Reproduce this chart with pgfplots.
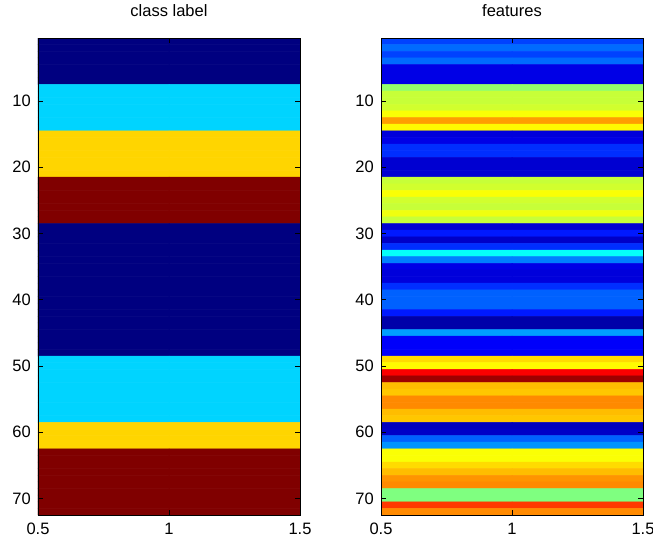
\documentclass[border=0pt]{standalone}
\usepackage{fontspec}
\setmainfont{Liberation Sans}
\usepackage{pgfplots}
\pgfplotsset{compat=1.18}
\pgfplotsset{mstyle/.style={
  scale only axis, width=262pt, height=477pt,
  xmin=0.5, xmax=1.5, ymin=0.5, ymax=72.5, y dir=reverse,
  enlargelimits=false, axis on top,
  xtick={0.5,1,1.5}, ytick={10,20,30,40,50,60,70},
  tick align=inside, major tick length=5pt,
  font=\fontsize{16.5}{19}\selectfont,
  /pgf/number format/assume math mode=true,
  xticklabel style={inner sep=0pt, yshift=-8pt},
  yticklabel style={inner sep=0pt, xshift=-7pt},
  title style={at={(0.5,1)}, anchor=base, yshift=16pt, inner sep=0pt},
  colormap/jet,
  axis line style={line width=0.7pt},
  every tick/.style={black, line width=0.6pt},
},
cells/.style={matrix plot, mesh/cols=2, point meta=explicit, draw=mapped color, line width=0.5pt}}
\begin{document}
\begin{tikzpicture}
\useasboundingbox (-38pt,-29pt) rectangle (615pt,515pt);
\begin{axis}[mstyle, at={(0,0)}, anchor=south west, title={class label}, point meta min=1, point meta max=4]
\addplot[cells] coordinates {
(0.75,1)[1] (1.25,1)[1]
(0.75,2)[1] (1.25,2)[1]
(0.75,3)[1] (1.25,3)[1]
(0.75,4)[1] (1.25,4)[1]
(0.75,5)[1] (1.25,5)[1]
(0.75,6)[1] (1.25,6)[1]
(0.75,7)[1] (1.25,7)[1]
(0.75,8)[2] (1.25,8)[2]
(0.75,9)[2] (1.25,9)[2]
(0.75,10)[2] (1.25,10)[2]
(0.75,11)[2] (1.25,11)[2]
(0.75,12)[2] (1.25,12)[2]
(0.75,13)[2] (1.25,13)[2]
(0.75,14)[2] (1.25,14)[2]
(0.75,15)[3] (1.25,15)[3]
(0.75,16)[3] (1.25,16)[3]
(0.75,17)[3] (1.25,17)[3]
(0.75,18)[3] (1.25,18)[3]
(0.75,19)[3] (1.25,19)[3]
(0.75,20)[3] (1.25,20)[3]
(0.75,21)[3] (1.25,21)[3]
(0.75,22)[4] (1.25,22)[4]
(0.75,23)[4] (1.25,23)[4]
(0.75,24)[4] (1.25,24)[4]
(0.75,25)[4] (1.25,25)[4]
(0.75,26)[4] (1.25,26)[4]
(0.75,27)[4] (1.25,27)[4]
(0.75,28)[4] (1.25,28)[4]
(0.75,29)[1] (1.25,29)[1]
(0.75,30)[1] (1.25,30)[1]
(0.75,31)[1] (1.25,31)[1]
(0.75,32)[1] (1.25,32)[1]
(0.75,33)[1] (1.25,33)[1]
(0.75,34)[1] (1.25,34)[1]
(0.75,35)[1] (1.25,35)[1]
(0.75,36)[1] (1.25,36)[1]
(0.75,37)[1] (1.25,37)[1]
(0.75,38)[1] (1.25,38)[1]
(0.75,39)[1] (1.25,39)[1]
(0.75,40)[1] (1.25,40)[1]
(0.75,41)[1] (1.25,41)[1]
(0.75,42)[1] (1.25,42)[1]
(0.75,43)[1] (1.25,43)[1]
(0.75,44)[1] (1.25,44)[1]
(0.75,45)[1] (1.25,45)[1]
(0.75,46)[1] (1.25,46)[1]
(0.75,47)[1] (1.25,47)[1]
(0.75,48)[1] (1.25,48)[1]
(0.75,49)[2] (1.25,49)[2]
(0.75,50)[2] (1.25,50)[2]
(0.75,51)[2] (1.25,51)[2]
(0.75,52)[2] (1.25,52)[2]
(0.75,53)[2] (1.25,53)[2]
(0.75,54)[2] (1.25,54)[2]
(0.75,55)[2] (1.25,55)[2]
(0.75,56)[2] (1.25,56)[2]
(0.75,57)[2] (1.25,57)[2]
(0.75,58)[2] (1.25,58)[2]
(0.75,59)[3] (1.25,59)[3]
(0.75,60)[3] (1.25,60)[3]
(0.75,61)[3] (1.25,61)[3]
(0.75,62)[3] (1.25,62)[3]
(0.75,63)[4] (1.25,63)[4]
(0.75,64)[4] (1.25,64)[4]
(0.75,65)[4] (1.25,65)[4]
(0.75,66)[4] (1.25,66)[4]
(0.75,67)[4] (1.25,67)[4]
(0.75,68)[4] (1.25,68)[4]
(0.75,69)[4] (1.25,69)[4]
(0.75,70)[4] (1.25,70)[4]
(0.75,71)[4] (1.25,71)[4]
(0.75,72)[4] (1.25,72)[4]
};
\end{axis}
\begin{axis}[mstyle, at={(343pt,0)}, anchor=south west, title={features}, point meta min=0, point meta max=1]
\addplot[cells] coordinates {
(0.75,1)[0.19] (1.25,1)[0.19]
(0.75,2)[0.23] (1.25,2)[0.23]
(0.75,3)[0.19] (1.25,3)[0.19]
(0.75,4)[0.23] (1.25,4)[0.23]
(0.75,5)[0.10] (1.25,5)[0.10]
(0.75,6)[0.10] (1.25,6)[0.10]
(0.75,7)[0.10] (1.25,7)[0.10]
(0.75,8)[0.52] (1.25,8)[0.52]
(0.75,9)[0.57] (1.25,9)[0.57]
(0.75,10)[0.57] (1.25,10)[0.57]
(0.75,11)[0.58] (1.25,11)[0.58]
(0.75,12)[0.62] (1.25,12)[0.62]
(0.75,13)[0.72] (1.25,13)[0.72]
(0.75,14)[0.63] (1.25,14)[0.63]
(0.75,15)[0.09] (1.25,15)[0.09]
(0.75,16)[0.10] (1.25,16)[0.10]
(0.75,17)[0.17] (1.25,17)[0.17]
(0.75,18)[0.17] (1.25,18)[0.17]
(0.75,19)[0.08] (1.25,19)[0.08]
(0.75,20)[0.08] (1.25,20)[0.08]
(0.75,21)[0.08] (1.25,21)[0.08]
(0.75,22)[0.57] (1.25,22)[0.57]
(0.75,23)[0.58] (1.25,23)[0.58]
(0.75,24)[0.62] (1.25,24)[0.62]
(0.75,25)[0.58] (1.25,25)[0.58]
(0.75,26)[0.57] (1.25,26)[0.57]
(0.75,27)[0.61] (1.25,27)[0.61]
(0.75,28)[0.57] (1.25,28)[0.57]
(0.75,29)[0.08] (1.25,29)[0.08]
(0.75,30)[0.15] (1.25,30)[0.15]
(0.75,31)[0.07] (1.25,31)[0.07]
(0.75,32)[0.17] (1.25,32)[0.17]
(0.75,33)[0.38] (1.25,33)[0.38]
(0.75,34)[0.25] (1.25,34)[0.25]
(0.75,35)[0.10] (1.25,35)[0.10]
(0.75,36)[0.09] (1.25,36)[0.09]
(0.75,37)[0.09] (1.25,37)[0.09]
(0.75,38)[0.17] (1.25,38)[0.17]
(0.75,39)[0.22] (1.25,39)[0.22]
(0.75,40)[0.22] (1.25,40)[0.22]
(0.75,41)[0.22] (1.25,41)[0.22]
(0.75,42)[0.15] (1.25,42)[0.15]
(0.75,43)[0.04] (1.25,43)[0.04]
(0.75,44)[0.04] (1.25,44)[0.04]
(0.75,45)[0.28] (1.25,45)[0.28]
(0.75,46)[0.12] (1.25,46)[0.12]
(0.75,47)[0.12] (1.25,47)[0.12]
(0.75,48)[0.12] (1.25,48)[0.12]
(0.75,49)[0.66] (1.25,49)[0.66]
(0.75,50)[0.63] (1.25,50)[0.63]
(0.75,51)[0.88] (1.25,51)[0.88]
(0.75,52)[0.97] (1.25,52)[0.97]
(0.75,53)[0.69] (1.25,53)[0.69]
(0.75,54)[0.68] (1.25,54)[0.68]
(0.75,55)[0.74] (1.25,55)[0.74]
(0.75,56)[0.74] (1.25,56)[0.74]
(0.75,57)[0.69] (1.25,57)[0.69]
(0.75,58)[0.68] (1.25,58)[0.68]
(0.75,59)[0.06] (1.25,59)[0.06]
(0.75,60)[0.07] (1.25,60)[0.07]
(0.75,61)[0.22] (1.25,61)[0.22]
(0.75,62)[0.27] (1.25,62)[0.27]
(0.75,63)[0.62] (1.25,63)[0.62]
(0.75,64)[0.62] (1.25,64)[0.62]
(0.75,65)[0.66] (1.25,65)[0.66]
(0.75,66)[0.69] (1.25,66)[0.69]
(0.75,67)[0.73] (1.25,67)[0.73]
(0.75,68)[0.74] (1.25,68)[0.74]
(0.75,69)[0.50] (1.25,69)[0.50]
(0.75,70)[0.50] (1.25,70)[0.50]
(0.75,71)[0.82] (1.25,71)[0.82]
(0.75,72)[0.74] (1.25,72)[0.74]
};
\end{axis}
\end{tikzpicture}
\end{document}
